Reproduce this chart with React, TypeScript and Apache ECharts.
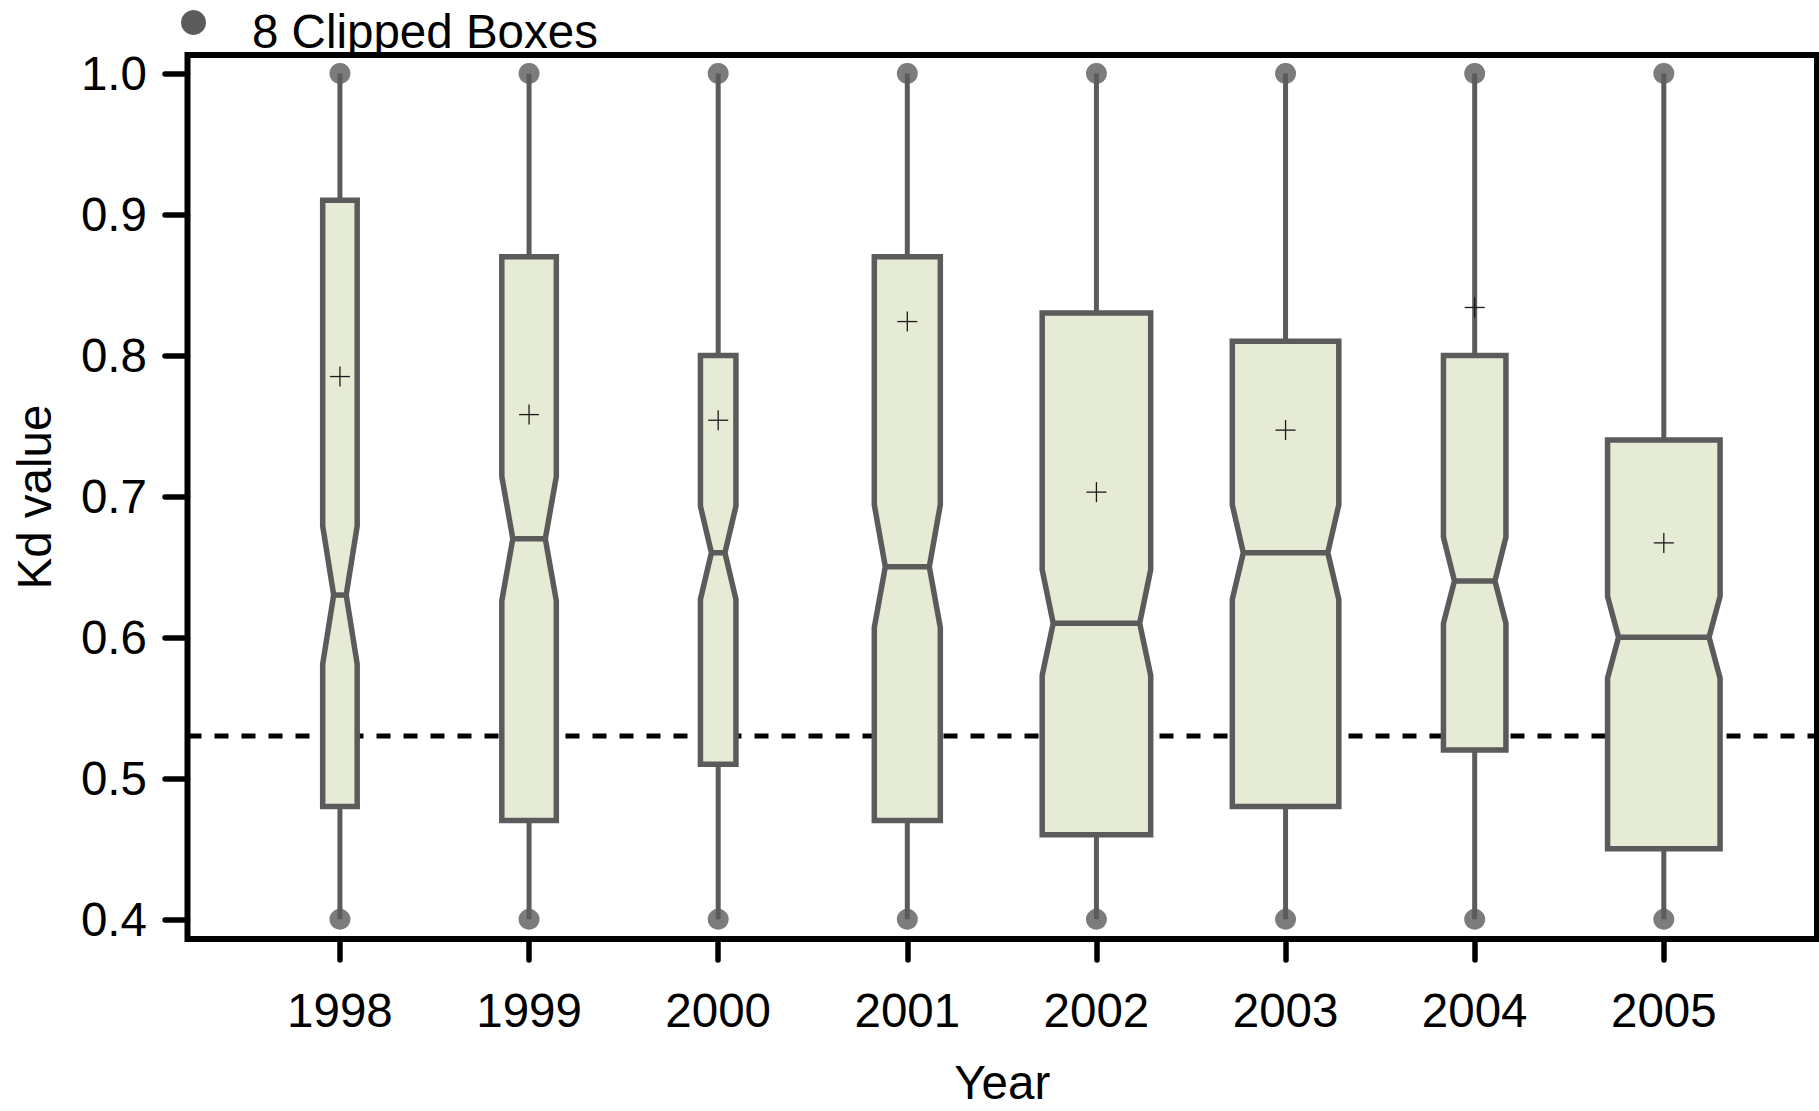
import React, { useEffect, useRef } from "react";
import * as echarts from "echarts";

// ---- data ----
const years = ["1998", "1999", "2000", "2001", "2002", "2003", "2004", "2005"];
const whiskerLow = [0.4, 0.4, 0.4, 0.4, 0.4, 0.4, 0.4, 0.4];
const q1 = [0.48, 0.47, 0.51, 0.47, 0.46, 0.48, 0.52, 0.45];
const notchLow = [0.581, 0.626, 0.627, 0.607, 0.573, 0.627, 0.61, 0.571];
const median = [0.63, 0.67, 0.66, 0.65, 0.61, 0.66, 0.64, 0.6];
const notchHigh = [0.679, 0.714, 0.693, 0.694, 0.648, 0.694, 0.671, 0.629];
const q3 = [0.91, 0.87, 0.8, 0.87, 0.83, 0.81, 0.8, 0.74];
const whiskerHigh = [1.0, 1.0, 1.0, 1.0, 1.0, 1.0, 1.0, 1.0];
const mean = [0.785, 0.758, 0.754, 0.824, 0.703, 0.747, 0.834, 0.667];
const yTicks = [0.4, 0.5, 0.6, 0.7, 0.8, 0.9, 1.0];
const referenceLevel = 0.53;
const legendLabel = "8 Clipped Boxes";

// ---- style ----
const boxWidths = [34.5, 54.5, 35.5, 66, 108.5, 106.5, 62.5, 112.5];
const NOTCH_INSET = 11;
const X_MIN = -0.806;
const X_MAX = 7.81;
const Y_MIN = 0.386;
const Y_MAX = 1.0131;
const FONT = "Liberation Sans";
const FS = 47.5;
const BOX_STROKE = "#5b5b5b";
const BOX_FILL = "#e6ebd5";

export default function App() {
  const ref = useRef<HTMLDivElement>(null);
  useEffect(() => {
    if (!ref.current) return;
    const chart = echarts.init(ref.current, undefined, { renderer: "svg" });
    const idx = years.map((_, i) => i);
    const boxData = years.map((_, i) => [
      i,
      whiskerLow[i],
      q1[i],
      notchLow[i],
      median[i],
      notchHigh[i],
      q3[i],
      whiskerHigh[i],
      mean[i],
    ]);
    const dotData: number[][] = [];
    years.forEach((_, i) => {
      dotData.push([i, whiskerLow[i]]);
      dotData.push([i, whiskerHigh[i]]);
    });
    const textStyle = { fontFamily: FONT, fontSize: FS, color: "#000" };

    chart.setOption({
      animation: false,
      backgroundColor: "#fff",
      grid: {
        left: 187.5,
        top: 55,
        width: 1629.5,
        height: 884,
        show: true,
        borderColor: "#000",
        borderWidth: 6,
        backgroundColor: "transparent",
        containLabel: false,
        outerBoundsMode: "none",
      },
      xAxis: {
        type: "value",
        min: X_MIN,
        max: X_MAX,
        splitLine: { show: false },
        axisLine: { show: false, onZero: false },
        axisTick: {
          show: true,
          customValues: idx,
          length: 21,
          lineStyle: { color: "#000", width: 5.5, cap: "round" },
        },
        axisLabel: {
          customValues: idx,
          formatter: (v: number) => years[Math.round(v)],
          margin: 47,
          ...textStyle,
        },
        name: "Year",
        nameLocation: "middle",
        nameGap: 122,
        nameTextStyle: { ...textStyle, lineHeight: 42 },
      },
      yAxis: {
        type: "value",
        min: Y_MIN,
        max: Y_MAX,
        splitLine: { show: false },
        axisLine: { show: false, onZero: false },
        axisTick: {
          show: true,
          customValues: yTicks,
          length: 22.5,
          lineStyle: { color: "#000", width: 5.5, cap: "round" },
        },
        axisLabel: {
          customValues: yTicks,
          formatter: (v: number) => v.toFixed(1),
          margin: 40.5,
          ...textStyle,
        },
        name: "Kd value",
        nameLocation: "middle",
        nameGap: 129.25,
        nameTextStyle: textStyle,
      },
      graphic: [
        {
          type: "circle",
          shape: { cx: 193.5, cy: 22.5, r: 12.5 },
          style: { fill: BOX_STROKE },
        },
        {
          type: "text",
          x: 252,
          y: 31.5,
          style: {
            text: legendLabel,
            fontFamily: FONT,
            fontSize: FS,
            fill: "#000",
            verticalAlign: "middle",
            align: "left",
          },
        },
      ],
      series: [
        {
          type: "line",
          name: "reference",
          data: [
            [X_MIN, referenceLevel],
            [X_MAX, referenceLevel],
          ],
          symbol: "none",
          silent: true,
          z: 1,
          lineStyle: { color: "#000", width: 5, type: [14, 13] },
        },
        {
          type: "custom",
          name: "boxes",
          z: 2,
          clip: false,
          encode: { x: 0, y: [1, 2, 3, 4, 5, 6, 7, 8] },
          data: boxData,
          renderItem: (params: any, api: any) => {
            const i = api.value(0);
            const cx = api.coord([i, 0.5])[0];
            const y = (v: number) => api.coord([i, v])[1];
            const hw = boxWidths[i] / 2;
            const xL = cx - hw;
            const xR = cx + hw;
            const yWL = y(api.value(1));
            const yQ1 = y(api.value(2));
            const yNL = y(api.value(3));
            const yMed = y(api.value(4));
            const yNH = y(api.value(5));
            const yQ3 = y(api.value(6));
            const yWH = y(api.value(7));
            const yMean = y(api.value(8));
            const wStyle = { stroke: BOX_STROKE, lineWidth: 5, fill: null };
            return {
              type: "group",
              children: [
                { type: "line", shape: { x1: cx, y1: yQ3, x2: cx, y2: yWH }, style: wStyle },
                { type: "line", shape: { x1: cx, y1: yQ1, x2: cx, y2: yWL }, style: wStyle },
                {
                  type: "polygon",
                  shape: {
                    points: [
                      [xL, yQ3],
                      [xR, yQ3],
                      [xR, yNH],
                      [xR - NOTCH_INSET, yMed],
                      [xR, yNL],
                      [xR, yQ1],
                      [xL, yQ1],
                      [xL, yNL],
                      [xL + NOTCH_INSET, yMed],
                      [xL, yNH],
                    ],
                  },
                  style: { fill: BOX_FILL, stroke: BOX_STROKE, lineWidth: 5.5, lineJoin: "miter" },
                },
                {
                  type: "line",
                  shape: { x1: xL + NOTCH_INSET, y1: yMed, x2: xR - NOTCH_INSET, y2: yMed },
                  style: { stroke: BOX_STROKE, lineWidth: 5.5 },
                },
                {
                  type: "line",
                  shape: { x1: cx - 10, y1: yMean, x2: cx + 10, y2: yMean },
                  style: { stroke: "#1a1a1a", lineWidth: 1.3 },
                },
                {
                  type: "line",
                  shape: { x1: cx, y1: yMean - 10, x2: cx, y2: yMean + 10 },
                  style: { stroke: "#1a1a1a", lineWidth: 1.3 },
                },
              ],
            };
          },
        },
        {
          type: "scatter",
          name: legendLabel,
          z: 3,
          clip: false,
          symbol: "circle",
          symbolSize: 21,
          itemStyle: { color: BOX_STROKE },
          data: dotData,
        },
      ],
    });
    return () => chart.dispose();
  }, []);
  return (
    <div
      ref={ref}
      style={{ position: "absolute", left: 0, top: 0, width: 1819, height: 1111 }}
    />
  );
}
